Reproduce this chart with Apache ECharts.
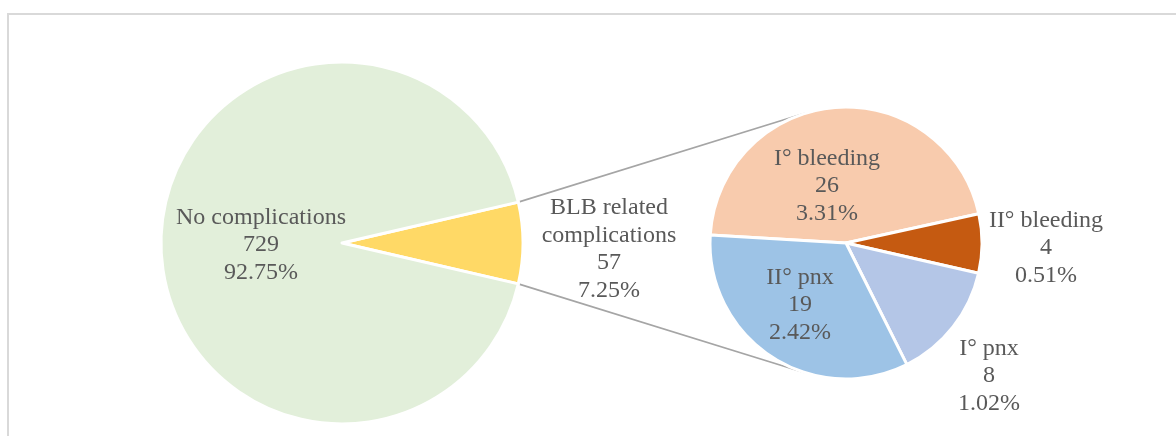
<!DOCTYPE html>
<html>
<head>
<meta charset="utf-8">
<script src="https://cdn.jsdelivr.net/npm/echarts@6/dist/echarts.min.js"></script>
<style>
  html, body { margin: 0; padding: 0; background: #fff; }
  #chart { width: 1176px; height: 436px; }
</style>
</head>
<body>
<div id="chart"></div>
<script>
// data
const mainNames = ['BLB related\ncomplications', 'No complications'];
const mainValues = [57, 729];
const subNames = ['I° bleeding', 'II° bleeding', 'I° pnx', 'II° pnx'];
const subValues = [26, 4, 8, 19];

const mainColors = ['#FFD966', '#E2EFDA'];
const subColors = ['#F8CBAD', '#C55A11', '#B4C6E7', '#9DC3E6'];

const total = mainValues.reduce((a, b) => a + b, 0);

// layout
const mainCenter = [342, 243];
const mainRadius = 181;
const subCenter = [846, 243];
const subRadius = 136;
const subStart = 176.6;
const mainStart = (mainValues[0] / total) * 180; // split wedge centred on the right

const mainLabelPos = [[609, 249], [261, 245]];
const subLabelPos = [[827, 186], [1046, 248], [989, 376], [800, 305]];

const textStyle = {
  color: '#595959',
  fontFamily: 'Liberation Serif',
  fontSize: 24,
  lineHeight: 27.5,
}

function fmt(p) {
  const pct = (p.value / total * 100).toFixed(2)
  return p.name + '\n' + p.value + '\n' + pct + '%'
}

function tangentPoint(px, py, cx, cy, r, upper) {
  const dx = cx - px, dy = cy - py
  const d = Math.hypot(dx, dy)
  const base = Math.atan2(dy, dx)
  const half = Math.asin(r / d)
  const len = Math.sqrt(d * d - r * r)
  const a = upper ? base - half : base + half
  return [px + len * Math.cos(a), py + len * Math.sin(a)]
}

const wedgeAngles = [mainStart, mainStart - (mainValues[0] / total) * 360]
const connectors = wedgeAngles.map((deg, i) => {
  const a = deg * Math.PI / 180
  const p = [mainCenter[0] + mainRadius * Math.cos(a), mainCenter[1] - mainRadius * Math.sin(a)]
  const q = tangentPoint(p[0], p[1], subCenter[0], subCenter[1], subRadius, i === 0)
  return {
    type: 'line',
    shape: { x1: p[0], y1: p[1], x2: q[0], y2: q[1] },
    style: { stroke: '#A5A5A5', lineWidth: 1.6 },
  }
})

const chart = echarts.init(document.getElementById('chart'))
chart.setOption({
  animation: false,
  graphic: [
    {
      type: 'rect',
      shape: { x: 8, y: 14, width: 1300, height: 600 },
      style: { fill: null, stroke: '#D9D9D9', lineWidth: 2 },
    },
    ...connectors,
  ],
  series: [
    {
      type: 'pie',
      center: mainCenter,
      radius: mainRadius,
      startAngle: mainStart,
      clockwise: true,
      data: mainNames.map((n, i) => ({ name: n, value: mainValues[i], itemStyle: { color: mainColors[i] } })),
      itemStyle: { borderColor: '#fff', borderWidth: 3 },
      label: { show: true, position: 'inside', formatter: fmt, ...textStyle },
      labelLine: { show: false },
      labelLayout: (p) => ({ x: mainLabelPos[p.dataIndex][0], y: mainLabelPos[p.dataIndex][1], align: 'center', verticalAlign: 'middle' }),
      emphasis: { disabled: true },
    },
    {
      type: 'pie',
      center: subCenter,
      radius: subRadius,
      startAngle: subStart,
      clockwise: true,
      data: subNames.map((n, i) => ({ name: n, value: subValues[i], itemStyle: { color: subColors[i] } })),
      itemStyle: { borderColor: '#fff', borderWidth: 3 },
      label: { show: true, position: 'inside', formatter: fmt, ...textStyle },
      labelLine: { show: false },
      labelLayout: (p) => ({ x: subLabelPos[p.dataIndex][0], y: subLabelPos[p.dataIndex][1], align: 'center', verticalAlign: 'middle' }),
      emphasis: { disabled: true },
    },
  ],
})
</script>
</body>
</html>
